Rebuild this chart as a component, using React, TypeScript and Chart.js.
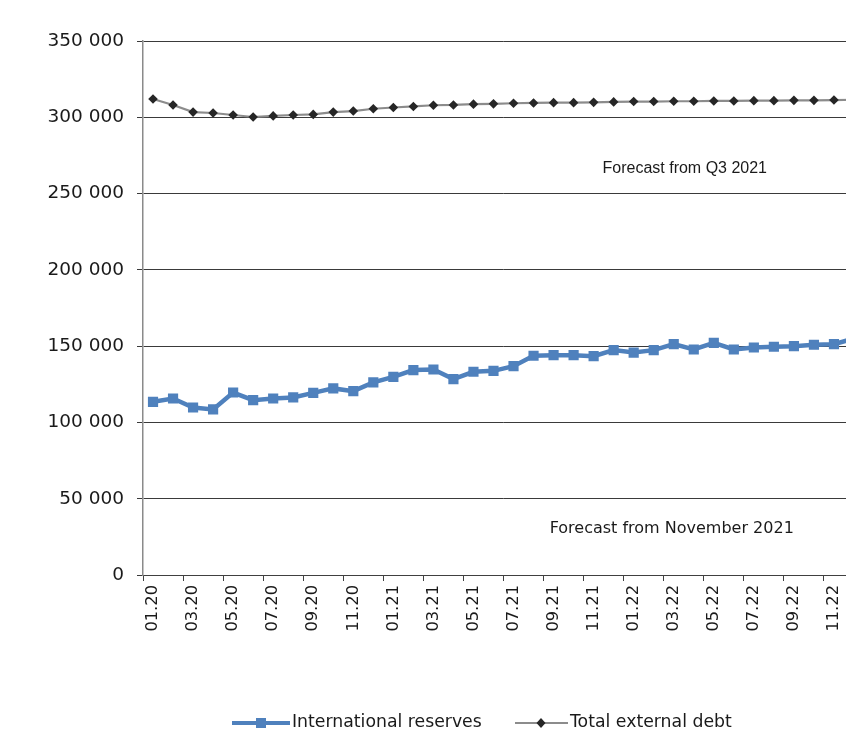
import { useEffect, useRef } from 'react';
import { Chart, registerables } from 'chart.js';

Chart.register(...registerables);

const months = [
  '01.20', '02.20', '03.20', '04.20', '05.20', '06.20', '07.20', '08.20', '09.20', '10.20', '11.20', '12.20',
  '01.21', '02.21', '03.21', '04.21', '05.21', '06.21', '07.21', '08.21', '09.21', '10.21', '11.21', '12.21',
  '01.22', '02.22', '03.22', '04.22', '05.22', '06.22', '07.22', '08.22', '09.22', '10.22', '11.22', '12.22',
];

const internationalReserves = [
  113500, 115700, 109800, 108500, 119600, 114600, 115700, 116400, 119400, 122300, 120500, 126200,
  129900, 134300, 134700, 128400, 133200, 133800, 136900, 143700, 144100, 144100, 143400, 147400,
  145800, 147400, 151300, 147800, 152200, 147800, 149100, 149600, 150000, 150900, 151300, 155000,
];

const totalExternalDebt = [
  312000, 308100, 303400, 302800, 301500, 300200, 300900, 301500, 301900, 303400, 304100, 305600,
  306400, 307100, 307900, 308100, 308600, 308800, 309200, 309400, 309600, 309600, 309800, 310100,
  310300, 310300, 310500, 310500, 310700, 310700, 310900, 310900, 311100, 311100, 311300, 311500,
];

const yMin = 0;
const yMax = 350000;
const yStep = 50000;

const legendLabels = ['International reserves', 'Total external debt'];
const notes = [
  { text: 'Forecast from Q3 2021', font: '16px "Liberation Sans", Arial, sans-serif', idx: 26.55, value: 266500 },
  { text: 'Forecast from November 2021', font: '16px "DejaVu Sans", Verdana, sans-serif', idx: 25.9, value: 30200 },
];

const BLUE = '#4F81BD';
const GRAY = '#8c8c8c';
const DARK = '#262626';
const TEXT = '#1a1a1a';

const fmt = (v: number) => String(v).replace(/\B(?=(\d{3})+(?!\d))/g, ' ');

const overlayPlugin = {
  id: 'overlay',
  afterDraw(chart: any) {
    const ctx = chart.ctx as CanvasRenderingContext2D;
    const xs = chart.scales.x;
    const ys = chart.scales.y;
    ctx.save();
    ctx.fillStyle = TEXT;
    ctx.textAlign = 'center';
    ctx.textBaseline = 'middle';
    for (const n of notes) {
      const i0 = Math.floor(n.idx);
      const f = n.idx - i0;
      const x = xs.getPixelForValue(i0) * (1 - f) + xs.getPixelForValue(i0 + 1) * f;
      const y = ys.getPixelForValue(n.value);
      ctx.font = n.font;
      ctx.fillText(n.text, x, y);
    }

    // legend
    const ly = 723;
    ctx.font = '17.3px "DejaVu Sans", Verdana, sans-serif';
    ctx.textAlign = 'left';
    // reserves
    ctx.strokeStyle = BLUE;
    ctx.lineWidth = 4;
    ctx.beginPath();
    ctx.moveTo(232, ly);
    ctx.lineTo(290, ly);
    ctx.stroke();
    ctx.fillStyle = BLUE;
    ctx.fillRect(256, ly - 5, 10, 10);
    ctx.fillStyle = TEXT;
    ctx.fillText(legendLabels[0], 292, ly);
    // debt
    ctx.strokeStyle = GRAY;
    ctx.lineWidth = 2;
    ctx.beginPath();
    ctx.moveTo(515, ly);
    ctx.lineTo(568, ly);
    ctx.stroke();
    ctx.fillStyle = DARK;
    ctx.beginPath();
    ctx.moveTo(541, ly - 5);
    ctx.lineTo(545.5, ly);
    ctx.lineTo(541, ly + 5);
    ctx.lineTo(536.5, ly);
    ctx.closePath();
    ctx.fill();
    ctx.fillStyle = TEXT;
    ctx.fillText(legendLabels[1], 570, ly);
    ctx.restore();
  },
};

export default function App() {
  const canvasRef = useRef<HTMLCanvasElement | null>(null);

  useEffect(() => {
    document.body.style.margin = '0';
    const canvas = canvasRef.current;
    if (!canvas) return;
    const chart = new Chart(canvas, {
      type: 'line',
      data: {
        labels: months,
        datasets: [
          {
            label: legendLabels[0],
            data: internationalReserves,
            borderColor: BLUE,
            backgroundColor: BLUE,
            borderWidth: 4.5,
            pointStyle: 'rect',
            pointRadius: 7.2,
            pointBorderWidth: 0,
            tension: 0,
          },
          {
            label: legendLabels[1],
            data: totalExternalDebt,
            borderColor: GRAY,
            backgroundColor: DARK,
            borderWidth: 2.2,
            pointStyle: 'rectRot',
            pointRadius: 4.8,
            pointBorderWidth: 0,
            pointBackgroundColor: DARK,
            tension: 0,
          },
        ],
      },
      options: {
        animation: false,
        responsive: false,
        devicePixelRatio: 1,
        layout: { padding: { left: 0, top: 41, right: 16, bottom: 0 } },
        plugins: {
          legend: { display: false },
          tooltip: { enabled: false },
        },
        scales: {
          x: {
            type: 'category',
            offset: true,
            afterFit: (scale: any) => {
              scale.height = 161;
            },
            grid: {
              offset: true,
              drawOnChartArea: false,
              drawTicks: true,
              tickLength: 6,
              color: (c: any) => (c.index % 2 === 0 ? '#404040' : 'rgba(0,0,0,0)'),
            },
            border: { display: true, color: '#404040', width: 1 },
            ticks: {
              autoSkip: false,
              maxRotation: 90,
              minRotation: 90,
              padding: 4,
              color: TEXT,
              font: { family: '"DejaVu Sans", Verdana, sans-serif', size: 16.3 },
              callback: (_v: any, i: number) => (i % 2 === 0 ? months[i] : ''),
            },
          },
          y: {
            min: yMin,
            max: yMax,
            afterFit: (scale: any) => {
              scale.width = 143;
            },
            grid: {
              color: '#3a3a3a',
              lineWidth: 1,
              drawTicks: true,
              tickLength: 6,
            },
            border: { display: true, color: '#8a8a8a', width: 1.5 },
            ticks: {
              stepSize: yStep,
              padding: 13,
              color: TEXT,
              font: { family: '"DejaVu Sans", Verdana, sans-serif', size: 18.5 },
              callback: (v: any) => fmt(Number(v)),
            },
          },
        },
      },
      plugins: [overlayPlugin],
    } as any);
    return () => chart.destroy();
  }, []);

  return (
    <div
      style={{
        position: 'absolute',
        left: 0,
        top: 0,
        width: 846,
        height: 736,
        overflow: 'hidden',
        background: '#ffffff',
      }}
    >
      <canvas ref={canvasRef} width={880} height={736} style={{ display: 'block', width: 880, height: 736 }} />
    </div>
  );
}
